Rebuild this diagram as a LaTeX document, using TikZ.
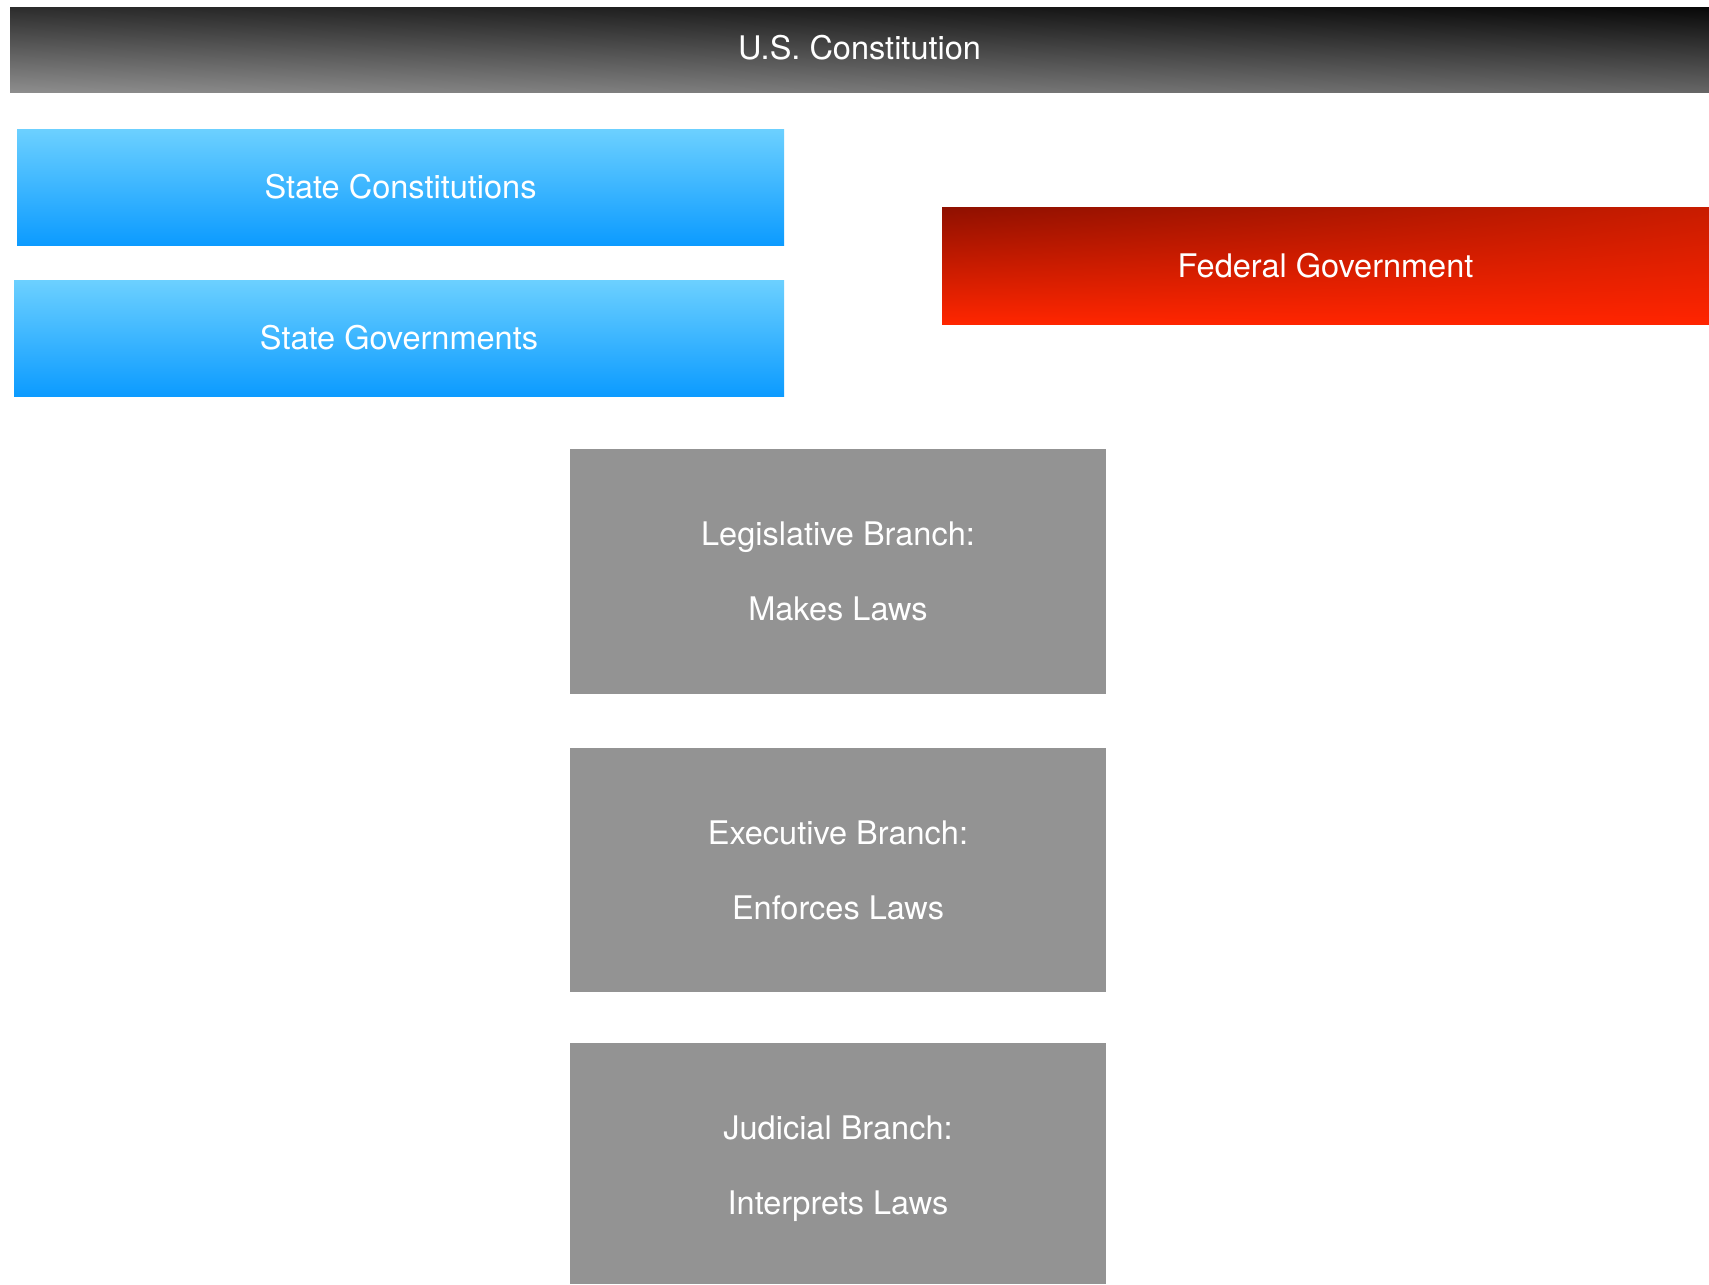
\documentclass[tikz,border=0pt]{standalone}
\usepackage{fontspec}
\setmainfont{TeX Gyre Heros}
\usetikzlibrary{shadings}
\definecolor{barUL}{HTML}{2C2C2C}
\definecolor{barUR}{HTML}{080808}
\definecolor{barLL}{HTML}{8D8D8D}
\definecolor{barLR}{HTML}{666666}
\definecolor{blueT}{HTML}{6CD0FF}
\definecolor{blueB}{HTML}{0C9BFF}
\definecolor{redUL}{HTML}{8F1000}
\definecolor{redUR}{HTML}{C81C00}
\definecolor{redLL}{HTML}{FF2600}
\definecolor{redLR}{HTML}{FF2400}
\definecolor{branchgray}{HTML}{939393}
\tikzset{
  box/.style={rectangle, inner sep=0pt, text=white, align=center,
    font=\fontsize{32.5}{75}\selectfont},
  headbox/.style={box, upper left=barUL, upper right=barUR, lower left=barLL, lower right=barLR},
  statebox/.style={box, upper left=blueT, upper right=blueT, lower left=blueB, lower right=blueB},
  fedbox/.style={box, upper left=redUL, upper right=redUR, lower left=redLL, lower right=redLR},
  branchbox/.style={box, fill=branchgray}
}
\begin{document}
\begin{tikzpicture}[x=1pt,y=-1pt]
\useasboundingbox[fill=white] (0,0) rectangle (1709,1285);
\node[headbox, minimum width=1699pt, minimum height=85pt] (usc) at (859.5,49.5) {\rule[-4pt]{0pt}{4pt}U.S. Constitution};
\node[statebox, minimum width=767pt, minimum height=116pt] (sc) at (400.5,187) {State Constitutions};
\node[statebox, minimum width=770pt, minimum height=116pt] (sg) at (399,338) {State Governments};
\node[fedbox, minimum width=767pt, minimum height=117pt] (fed) at (1325.5,265.5) {Federal Government};
\node[branchbox, minimum width=536pt, minimum height=245pt] (leg) at (838,571.5) {Legislative Branch:\\Makes Laws};
\node[branchbox, minimum width=536pt, minimum height=244pt] (exe) at (838,870) {Executive Branch:\\Enforces Laws};
\node[branchbox, minimum width=536pt, minimum height=241pt] (jud) at (838,1163.5) {\rule{0pt}{34pt}Judicial Branch:\\Interprets Laws};
\end{tikzpicture}
\end{document}
